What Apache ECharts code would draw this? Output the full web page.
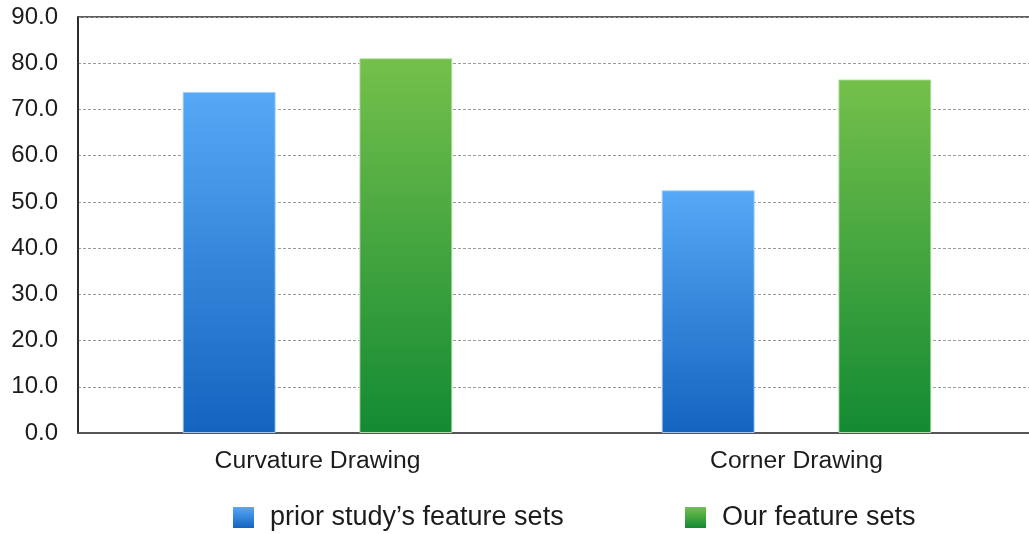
<!DOCTYPE html>
<html>
<head>
<meta charset="utf-8">
<script src="https://cdn.jsdelivr.net/npm/echarts@6/dist/echarts.min.js"></script>
<style>
  html, body { margin: 0; padding: 0; background: #ffffff; overflow: hidden; }
  #chart { width: 1029px; height: 534px; }
</style>
</head>
<body>
<div id="chart"></div>
<script>
// Accuracy (%) of two feature sets on two drawing tasks
const categories = ['Curvature Drawing', 'Corner Drawing'];
const priorValues = [73.8, 52.5];
const ourValues = [81.1, 76.5];
const seriesNames = ['prior study\u2019s feature sets', 'Our feature sets'];

const FONT = "'Helvetica Neue', 'Liberation Sans', Arial, sans-serif";
const TEXT = '#1c1c1c';

function grad(top, bottom) {
  return new echarts.graphic.LinearGradient(0, 0, 0, 1, [
    { offset: 0, color: top },
    { offset: 1, color: bottom }
  ]);
}

const chart = echarts.init(document.getElementById('chart'), null, { renderer: 'canvas' });

const legendCommon = {
  top: 504,
  padding: 0,
  icon: 'rect',
  itemWidth: 21,
  itemHeight: 21,
  itemStyle: { borderWidth: 0 },
  textStyle: { fontFamily: FONT, fontSize: 27, color: TEXT, padding: [0, 0, 0, 11] },
  selectedMode: false
};

chart.setOption({
  animation: false,
  backgroundColor: '#ffffff',
  grid: {
    left: 78, top: 17, right: -7, bottom: 101,
    outerBoundsMode: 'none',
    containLabel: false,
    show: true, borderColor: '#2a2a2a', borderWidth: 1.5, backgroundColor: 'transparent'
  },
  legend: [
    Object.assign({ left: 233, data: [seriesNames[0]] }, legendCommon),
    Object.assign({ left: 685, data: [seriesNames[1]] }, legendCommon)
  ],
  xAxis: {
    type: 'category',
    data: categories,
    axisLine: { show: true, lineStyle: { color: '#555555', width: 2 } },
    axisTick: { show: false },
    axisLabel: { fontFamily: FONT, fontSize: 24.7, color: TEXT, margin: 16 }
  },
  yAxis: {
    type: 'value',
    min: 0, max: 90, interval: 10,
    axisLine: { show: true, lineStyle: { color: '#1c1c1c', width: 1.5 } },
    axisTick: { show: false },
    axisLabel: {
      fontFamily: FONT, fontSize: 24, color: TEXT, margin: 20,
      formatter: v => v.toFixed(1)
    },
    splitLine: { show: true, lineStyle: { color: '#9a9a9a', width: 1, type: [3, 2] } }
  },
  series: [
    {
      name: seriesNames[0],
      type: 'bar',
      data: priorValues,
      barWidth: 93,
      barGap: '90%',
      itemStyle: {
        color: grad('#56a9f6', '#1463bf'),
        borderColor: 'rgba(170,210,250,0.9)',
        borderWidth: 1
      }
    },
    {
      name: seriesNames[1],
      type: 'bar',
      data: ourValues,
      barWidth: 93,
      barGap: '90%',
      itemStyle: {
        color: grad('#75c04b', '#138a33'),
        borderColor: 'rgba(190,230,180,0.9)',
        borderWidth: 1
      }
    }
  ]
});
</script>
</body>
</html>
